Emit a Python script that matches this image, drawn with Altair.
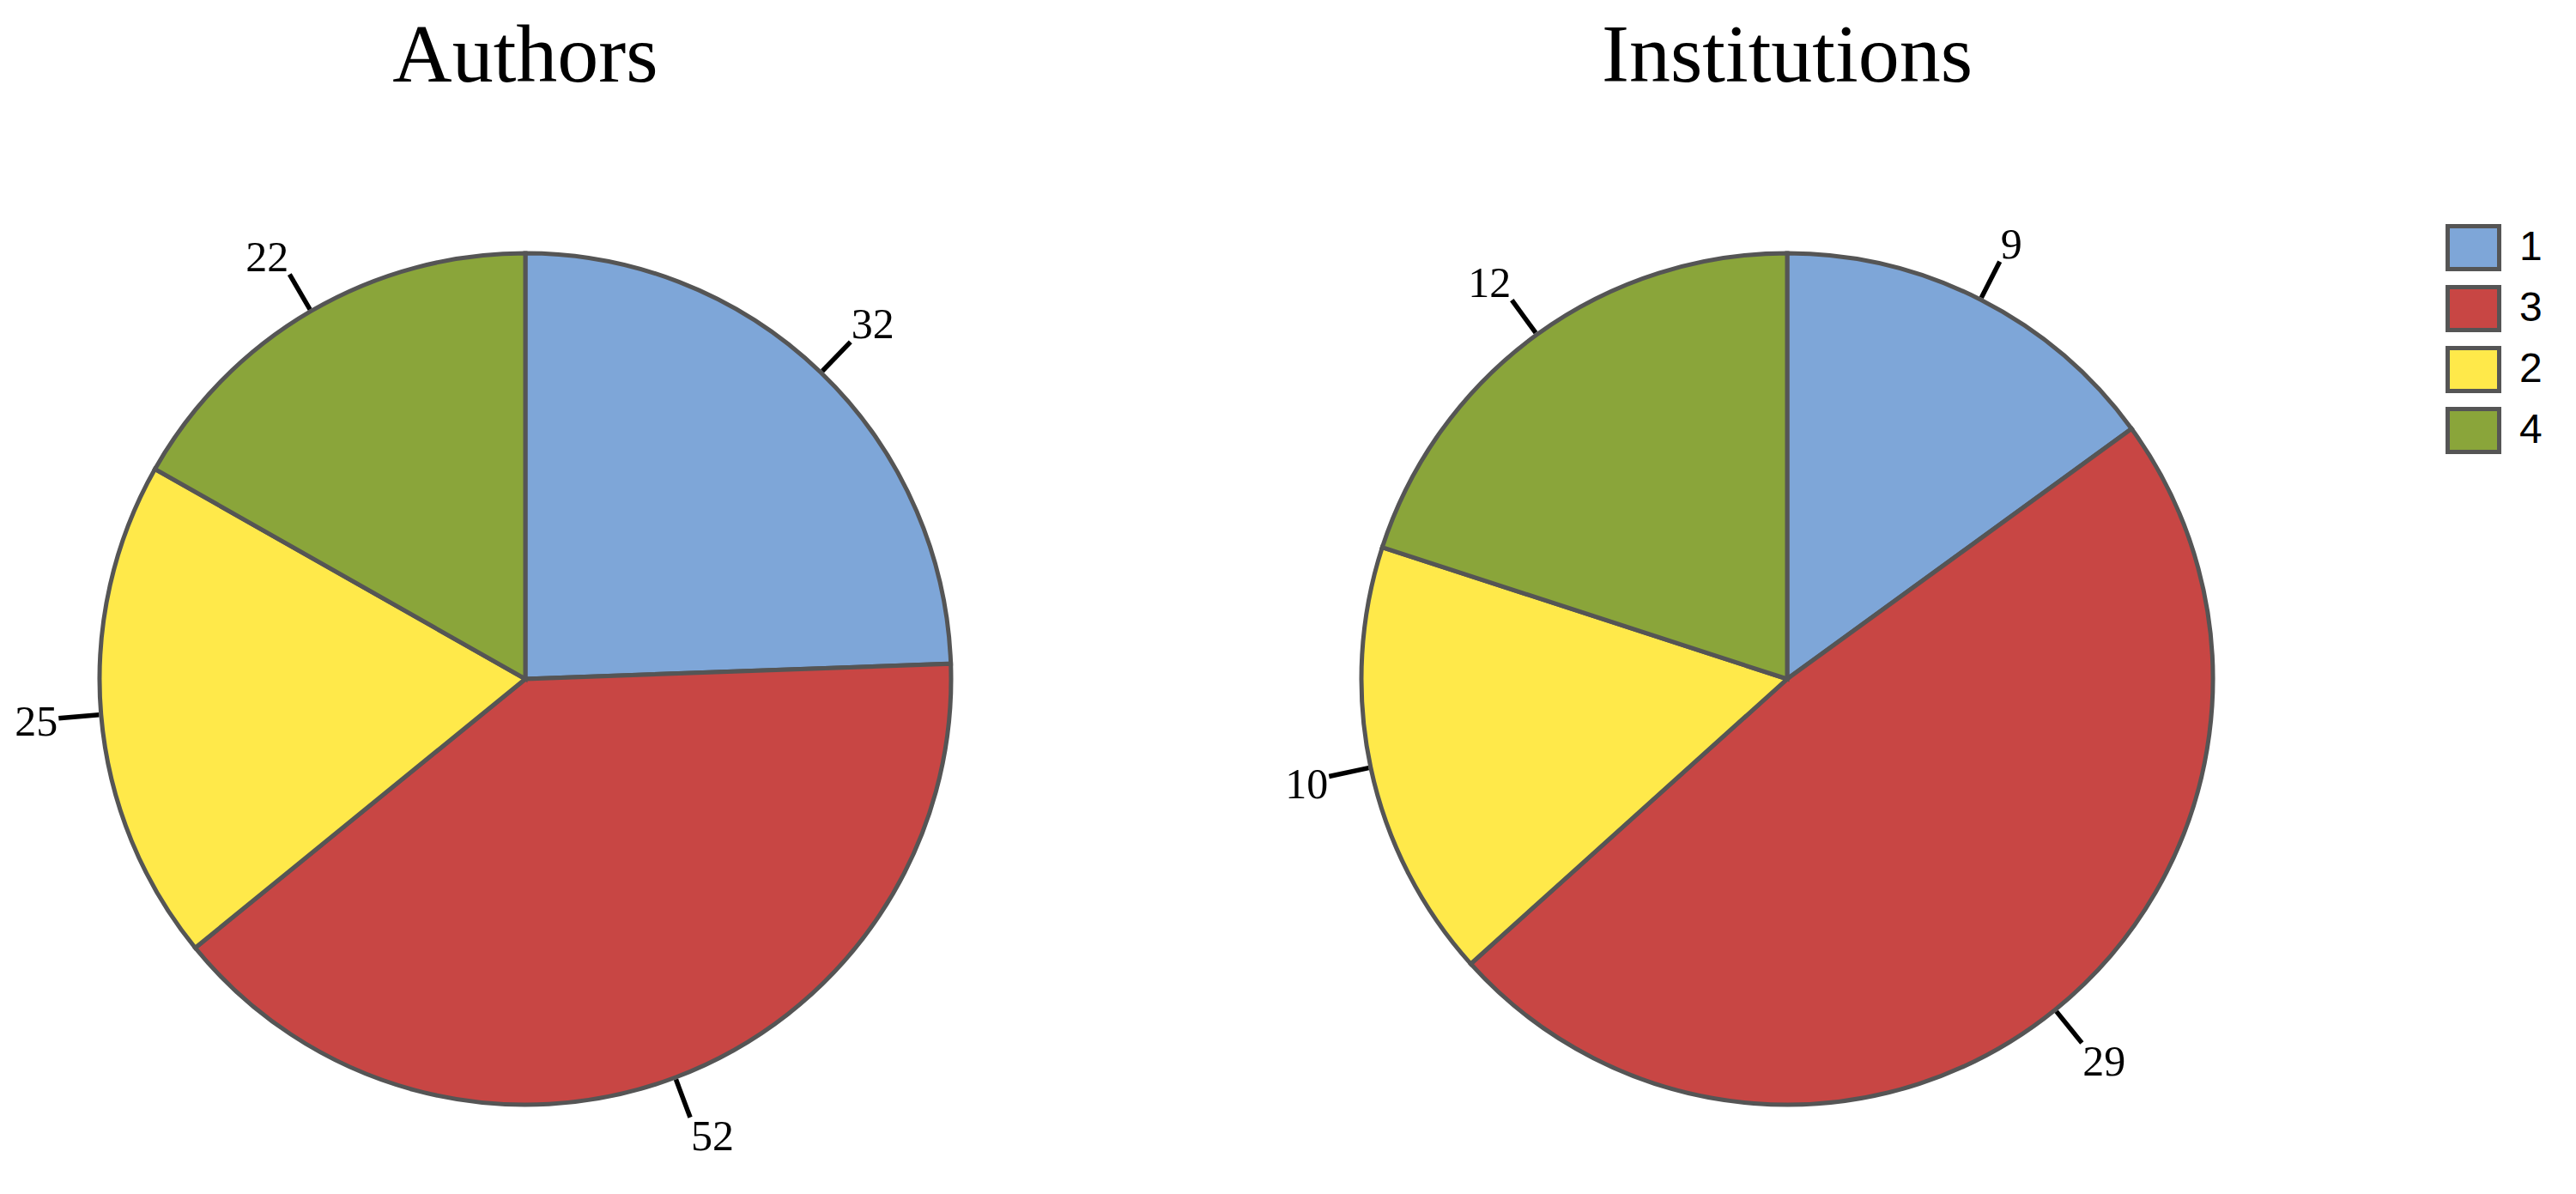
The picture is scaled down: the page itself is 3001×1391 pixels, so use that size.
import altair as alt
import pandas as pd

# ---- data ----
categories = ["1", "3", "2", "4"]          # clockwise order from 12 o'clock
authors = [32, 52, 25, 22]
institutions = [9, 29, 10, 12]
panel_titles = ["Authors", "Institutions"]

colors = ["#7EA6D8", "#C84644", "#FFE94A", "#8AA53A"]
edge = "#555555"

# ---- geometry (pixels) ----
R = 496          # pie radius
W = 1208         # panel plot width
H = 1230         # panel plot height
CY = 666         # distance from plot top to pie centre
xdom = [-W / 2 / R, W / 2 / R]
ydom = [-(H - CY) / R, CY / R]
R_IN, R_OUT = 1.005, 1.10       # leader line from / to (in radius units)
FS = 50                          # label font size
CHAR_W = 0.5 * FS
HALF_H = 19

xscale = alt.Scale(domain=xdom, nice=False, zero=False)
yscale = alt.Scale(domain=ydom, nice=False, zero=False)


def panel(title, values):
    df = pd.DataFrame({"cat": categories, "value": values,
                       "order": list(range(len(values)))})
    base = (
        alt.Chart(df)
        .transform_joinaggregate(total="sum(value)")
        .transform_window(cum="sum(value)", sort=[alt.SortField("order")],
                          frame=[None, 0])
        .transform_calculate(
            t1="datum.cum / datum.total * 2 * PI",
            t0="(datum.cum - datum.value) / datum.total * 2 * PI",
            m="(datum.t0 + datum.t1) / 2",
            zero="0",
            lx0=f"sin(datum.m) * {R_IN}",
            ly0=f"cos(datum.m) * {R_IN}",
            lx1=f"sin(datum.m) * {R_OUT}",
            ly1=f"cos(datum.m) * {R_OUT}",
            lbl="format(datum.value, 'd')",
            tx=f"datum.lx1 + clamp(3 * sin(datum.m), -1, 1) * (length(datum.lbl) * {CHAR_W} / 2 + 1) / {R}",
            ty=f"datum.ly1 + clamp(2 * cos(datum.m), -1, 1) * ({HALF_H} + 2) / {R} - 2 / {R}",
        )
    )

    pie = base.mark_arc(radius=R, stroke=edge, strokeWidth=5).encode(
        theta=alt.Theta("t0:Q", scale=None, stack=None),
        theta2="t1:Q",
        x=alt.X("zero:Q", scale=xscale, axis=None),
        y=alt.Y("zero:Q", scale=yscale, axis=None),
        color=alt.Color(
            "cat:N",
            scale=alt.Scale(domain=categories, range=colors),
            legend=alt.Legend(
                title=None,
                orient="none",
                legendX=2846,
                legendY=136,
                symbolType="M-1.2,-1H1.2V1H-1.2Z",
                symbolSize=2500,
                symbolStrokeColor=edge,
                symbolStrokeWidth=5,
                symbolOpacity=1,
                labelFont="Liberation Sans",
                labelFontSize=48,
                labelColor="black",
                labelOffset=26,
                rowPadding=0,
            ),
        ),
        order=alt.Order("order:Q"),
    )

    leaders = base.mark_rule(color="black", strokeWidth=5.5).encode(
        x=alt.X("lx0:Q", scale=xscale, axis=None),
        y=alt.Y("ly0:Q", scale=yscale, axis=None),
        x2="lx1:Q",
        y2="ly1:Q",
    )

    labels = base.mark_text(
        font="Liberation Serif", fontSize=FS, color="black",
        align="center", baseline="middle",
    ).encode(
        x=alt.X("tx:Q", scale=xscale, axis=None),
        y=alt.Y("ty:Q", scale=yscale, axis=None),
        text="lbl:N",
    )

    return alt.layer(pie, leaders, labels).properties(
        width=W,
        height=H,
        title=alt.TitleParams(
            text=title,
            font="Liberation Serif",
            fontSize=96,
            fontWeight="normal",
            color="black",
            anchor="middle",
            offset=10,
        ),
    )


chart = (
    alt.hconcat(panel(panel_titles[0], authors), panel(panel_titles[1], institutions),
                spacing=262, padding={"top": 10, "left": 0, "right": 0, "bottom": 0})
    .configure_view(stroke=None)
)

chart.save("out.html", embed_options={"renderer": "svg", "actions": False})
